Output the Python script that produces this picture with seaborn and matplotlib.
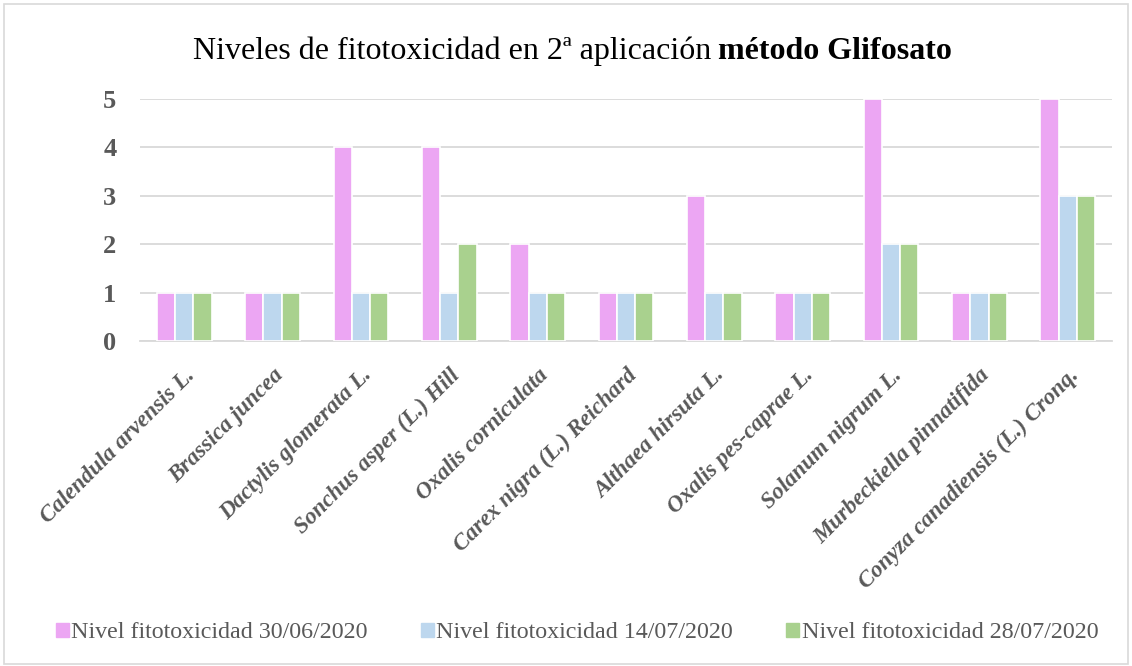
import pandas as pd
import matplotlib.pyplot as plt
import matplotlib.patches as mpatches
import seaborn as sns

# data
especies = ["Calendula arvensis L.", "Brassica juncea", "Dactylis glomerata L.",
            "Sonchus asper (L.) Hill", "Oxalis corniculata", "Carex nigra (L.) Reichard",
            "Althaea hirsuta L.", "Oxalis pes-caprae L.", "Solanum nigrum L.",
            "Murbeckiella pinnatifida", "Conyza canadiensis (L.) Cronq."]
nivel_30_06 = [1, 1, 4, 4, 2, 1, 3, 1, 5, 1, 5]
nivel_14_07 = [1, 1, 1, 1, 1, 1, 1, 1, 2, 1, 3]
nivel_28_07 = [1, 1, 1, 2, 1, 1, 1, 1, 2, 1, 3]
series = ["Nivel fitotoxicidad 30/06/2020", "Nivel fitotoxicidad 14/07/2020",
          "Nivel fitotoxicidad 28/07/2020"]
colores = ["#ECA6F3", "#BDD7EE", "#A9D18E"]

df = pd.DataFrame({"especie": especies, series[0]: nivel_30_06,
                   series[1]: nivel_14_07, series[2]: nivel_28_07})
df = df.melt(id_vars="especie", var_name="serie", value_name="nivel")

sns.set_style("white")
plt.rcParams["font.family"] = ["Liberation Serif", "DejaVu Serif"]

fig = plt.figure(figsize=(11.32, 6.66), dpi=100)
ax = fig.add_axes([140 / 1132, 1 - 341 / 666, 972 / 1132, 242 / 666])

sns.barplot(data=df, x="especie", y="nivel", hue="serie", palette=colores,
            saturation=1, width=0.62, edgecolor="white", linewidth=1.2, ax=ax,
            legend=False, zorder=3)

ax.set_ylim(0, 5)
ax.set_xlim(-0.5, len(especies) - 0.5)
ax.yaxis.grid(True, color="#D9D9D9", linewidth=1.3, zorder=0)
ax.set_axisbelow(True)
for s in ["top", "right", "left"]:
    ax.spines[s].set_visible(False)
ax.spines["bottom"].set_color("#D9D9D9")
ax.spines["bottom"].set_linewidth(1.3)
ax.set_xlabel("")
ax.set_ylabel("")
ax.tick_params(axis="both", length=0)
ax.set_yticks(range(6), [str(v) for v in range(6)], fontsize=19,
              fontweight="bold", color="#595959")
ax.tick_params(axis="y", pad=17)
ax.set_xticks(range(len(especies)), especies, rotation=45, ha="right",
              rotation_mode="anchor", fontsize=16.7, fontweight="bold",
              fontstyle="italic", color="#595959")
ax.tick_params(axis="x", pad=17)

# title: normal part + bold part
t1 = fig.text(193 / 1132, 1 - 59 / 666, "Niveles de fitotoxicidad en 2ª aplicación",
              fontsize=23, ha="left", va="baseline", color="black")
ax.annotate("método Glifosato", xy=(1, 0), xycoords=t1, xytext=(5, 0),
            textcoords="offset points", fontsize=23, fontweight="bold",
            ha="left", va="bottom", color="black", annotation_clip=False)

handles = [mpatches.Patch(color=c, label=s) for c, s in zip(colores, series)]
fig.legend(handles=handles, loc="center", bbox_to_anchor=(577 / 1132, 1 - 633 / 666),
           ncol=3, frameon=False, fontsize=17.3, handlelength=0.55,
           handleheight=0.55, handletextpad=0.1, columnspacing=2.2,
           labelcolor="#595959")

fig.patches.append(mpatches.Rectangle((4 / 1132, 2 / 666), 1124 / 1132, 660 / 666,
                                      transform=fig.transFigure, fill=False,
                                      edgecolor="#D9D9D9", linewidth=1.2))

fig.savefig("out.png", dpi=100)
